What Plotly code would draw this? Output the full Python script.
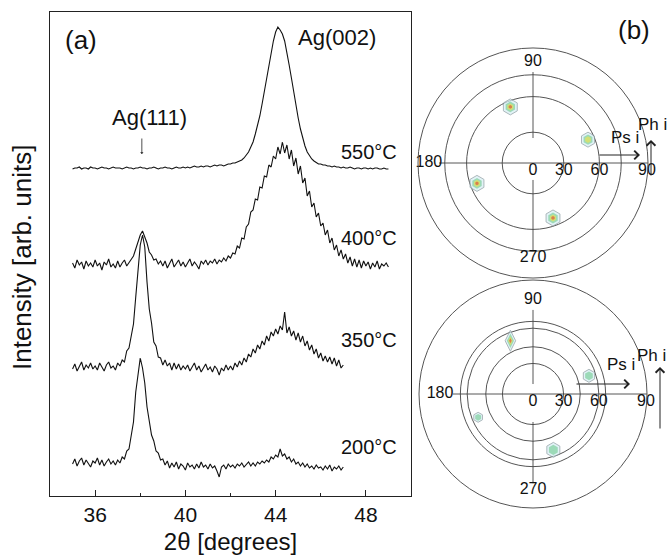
import numpy as np
import plotly.graph_objects as go

# ---------------- Panel (a): XRD 2-theta scans ----------------
TWO_THETA_START = 35.0
TWO_THETA_STEP = 0.1

I_550 = [
    327, 328, 328, 329, 327, 328, 328, 327, 329, 328,
    328, 327, 328, 329, 328, 328, 327, 328, 329, 328,
    328, 328, 327, 328, 329, 328, 328, 327, 328, 328,
    329, 328, 328, 327, 328, 328, 329, 328, 327, 328,
    328, 329, 328, 328, 327, 328, 329, 328, 328, 329,
    328, 329, 328, 329, 330, 329, 329, 330, 329, 330,
    330, 329, 330, 331, 330, 331, 331, 330, 331, 332,
    332, 333, 333, 334, 335, 336, 338, 341, 344, 349,
    354, 362, 370, 380, 392, 404, 418, 431, 444, 455,
    464, 469, 466, 462, 455, 444, 431, 418, 404, 391,
    378, 367, 358, 350, 344, 340, 337, 335, 333, 332,
    332, 331, 331, 330, 330, 329, 330, 329, 329, 328,
    329, 328, 328, 329, 328, 327, 328, 328, 327, 328,
    328, 327, 328, 327, 328, 328, 327, 327, 328, 327,
    327,
]

I_400 = [
    233, 228, 236, 231, 234, 227, 235, 230, 233, 229,
    236, 230, 233, 226, 234, 231, 237, 229, 232, 228,
    235, 229, 233, 236, 230, 233, 237, 240, 247, 254,
    261, 265, 259, 253, 244, 241, 236, 237, 232, 235,
    230, 235, 228, 233, 237, 229, 232, 236, 230, 234,
    229, 233, 237, 230, 234, 231, 227, 235, 232, 236,
    231, 235, 233, 237, 232, 236, 234, 238, 235, 240,
    238, 243, 242, 250, 248, 258, 257, 269, 272, 284,
    286, 297, 296, 309, 308, 320, 319, 331, 329, 340,
    337, 349, 342, 354, 343, 351, 337, 346, 330, 338,
    322, 330, 313, 318, 300, 305, 289, 293, 279, 283,
    270, 273, 261, 266, 253, 258, 246, 251, 240, 246,
    237, 242, 233, 239, 230, 237, 229, 236, 228, 235,
    230, 234, 227, 233, 229, 235, 227, 232, 230, 233,
    229,
]

I_350 = [
    127, 132, 125, 130, 134, 126, 131, 128, 133, 127,
    130, 126, 133, 129, 125, 131, 134, 128, 130, 126,
    133, 130, 136, 134, 145, 148, 161, 172, 199, 224,
    251, 261, 249, 214, 187, 173, 154, 150, 139, 138,
    131, 136, 130, 133, 126, 133, 127, 132, 126, 130,
    127, 131, 125, 129, 133, 126, 130, 124, 128, 132,
    126, 129, 124, 130, 127, 121, 128, 125, 131, 126,
    130, 126, 133, 129, 135, 131, 138, 134, 142, 139,
    147, 143, 151, 147, 155, 151, 160, 155, 164, 160,
    167, 162, 170, 166, 184, 163, 169, 160, 165, 156,
    163, 154, 160, 150, 155, 146, 151, 142, 147, 138,
    143, 135, 140, 134, 139, 132, 138, 130, 136, 128,
    131,
]

I_200 = [
    32, 37, 30, 35, 38, 31, 36, 33, 29, 35,
    33, 38, 31, 36, 30, 34, 37, 32, 35, 31,
    36, 33, 39, 37, 45, 47, 61, 74, 104, 122,
    138, 128, 113, 89, 76, 61, 55, 45, 43, 36,
    37, 31, 35, 28, 33, 29, 34, 27, 32, 30,
    26, 33, 29, 31, 27, 32, 28, 34, 29, 31,
    27, 32, 28, 30, 25, 19, 29, 31, 27, 32,
    29, 31, 28, 32, 30, 33, 29, 31, 34, 30,
    33, 30, 34, 32, 35, 33, 36, 34, 39, 37,
    41, 39, 47, 40, 42, 37, 39, 34, 37, 32,
    34, 30, 33, 29, 32, 28, 30, 27, 31, 28,
    29, 26, 30, 27, 31, 25, 29, 27, 30, 26,
    29,
]

SCANS = [I_550, I_400, I_350, I_200]
SCAN_LABELS = ["550°C", "400°C", "350°C", "200°C"]
X_TICKS = [36, 40, 44, 48]
X_MINOR = [38, 42, 46]

# ---------------- Panel (b): pole figures (psi, phi in degrees) ----------------
TOP_RING_PSI = [30, 60, 75]
BOT_RING_PSI = [30, 45, 60, 65]
PSI_LABEL_VALUES = [0, 30, 60, 89.5]
PSI_LABELS = ["0", "30", "60", "90"]

TOP_CROSS_PHI = [90, 270, 180, 0]
TOP_CROSS_FROM = [24.5, 16.8, 0, 0]
TOP_CROSS_TO = [76.7, 74.2, 78.5, 90]
BOT_CROSS_PHI = [90, 270, 180, 0]
BOT_CROSS_FROM = [10, 27.6, 0, 0]
BOT_CROSS_TO = [72.8, 76.1, 70.1, 90]

PHI_LABELS = ["90", "270", "180"]
PHI_LABEL_PHI = [90, 270, 180]
TOP_PHI_LABEL_PSI = [82.6, 79.2, 84.3]
BOT_PHI_LABEL_PSI = [79.0, 80.2, 78.4]

TOP_SPOT_PSI = [55.5, 54.9, 54.8, 53.9]
TOP_SPOT_PHI = [112, 23, 200, 290]
TOP_SPOT_LEVEL = [4, 3, 4, 4]
TOP_SPOT_SIZE = [16, 15, 16, 16]
TOP_SPOT_SYMBOL = ["hexagon", "hexagon", "hexagon", "hexagon"]

BOT_SPOT_PSI = [53.8, 54.6, 55.2, 55.1]
BOT_SPOT_PHI = [113, 18, 203, 290]
BOT_SPOT_LEVEL = [4, 2, 2, 2]
BOT_SPOT_SIZE = [15, 13, 10, 15]
BOT_SPOT_SYMBOL = ["diamond-tall", "hexagon", "hexagon", "hexagon"]

LEVEL_COLORS = ["#d6eff4", "#7fcf9c", "#e8e35a", "#e0553a"]
LEVEL_FRAC = [1.0, 0.68, 0.44, 0.24]

FONT = "Liberation Sans, Arial, sans-serif"
W, H = 670, 555


def stereo(psi):
    return np.tan(np.radians(np.asarray(psi, dtype=float)) / 2.0)


fig = go.Figure()

for I in SCANS:
    x = np.round(TWO_THETA_START + TWO_THETA_STEP * np.arange(len(I)), 2)
    fig.add_trace(go.Scatter(x=x, y=I, mode="lines",
                             line=dict(color="#111111", width=1.1),
                             xaxis="x", yaxis="y", showlegend=False,
                             hoverinfo="skip"))


def add_pole(subplot, cross_phi, cross_from, cross_to, lab_psi,
             spot_psi, spot_phi, spot_level, spot_size, spot_symbol):
    for phi, a, b in zip(cross_phi, cross_from, cross_to):
        fig.add_trace(go.Scatterpolar(r=stereo([a, b]), theta=[phi, phi],
                                      mode="lines",
                                      line=dict(color="#444444", width=0.9),
                                      subplot=subplot, showlegend=False,
                                      hoverinfo="skip"))
    n = len(spot_psi)
    for lvl in range(4):
        sel = [i for i in range(n) if spot_level[i] > lvl]
        if not sel:
            continue
        fig.add_trace(go.Scatterpolar(
            r=stereo([spot_psi[i] for i in sel]),
            theta=[spot_phi[i] for i in sel],
            mode="markers",
            marker=dict(size=[spot_size[i] * LEVEL_FRAC[lvl] for i in sel],
                        color=LEVEL_COLORS[lvl],
                        symbol=[spot_symbol[i] for i in sel],
                        line=dict(color="#8a9aa0" if lvl == 0 else LEVEL_COLORS[lvl],
                                  width=1 if lvl == 0 else 0)),
            subplot=subplot, showlegend=False, hoverinfo="skip"))
    # phi labels (90 / 270 / 180)
    fig.add_trace(go.Scatterpolar(r=stereo(lab_psi), theta=PHI_LABEL_PHI,
                                  mode="text", text=PHI_LABELS,
                                  textfont=dict(size=16, color="#111", family=FONT),
                                  cliponaxis=False,
                                  subplot=subplot, showlegend=False,
                                  hoverinfo="skip"))
    # psi labels along phi = 0
    fig.add_trace(go.Scatterpolar(r=stereo(PSI_LABEL_VALUES),
                                  theta=[0] * len(PSI_LABEL_VALUES),
                                  mode="text", text=PSI_LABELS,
                                  textposition="bottom center",
                                  textfont=dict(size=16, color="#111", family=FONT),
                                  cliponaxis=False,
                                  subplot=subplot, showlegend=False,
                                  hoverinfo="skip"))


add_pole("polar", TOP_CROSS_PHI, TOP_CROSS_FROM, TOP_CROSS_TO, TOP_PHI_LABEL_PSI,
         TOP_SPOT_PSI, TOP_SPOT_PHI, TOP_SPOT_LEVEL, TOP_SPOT_SIZE, TOP_SPOT_SYMBOL)
add_pole("polar2", BOT_CROSS_PHI, BOT_CROSS_FROM, BOT_CROSS_TO, BOT_PHI_LABEL_PSI,
         BOT_SPOT_PSI, BOT_SPOT_PHI, BOT_SPOT_LEVEL, BOT_SPOT_SIZE, BOT_SPOT_SYMBOL)


def polar_layout(xd, yd, ring_psi):
    return dict(
        domain=dict(x=xd, y=yd),
        bgcolor="white",
        radialaxis=dict(range=[0, 1], tickmode="array",
                        tickvals=list(stereo(ring_psi)),
                        showticklabels=False,
                        showline=False, ticks="", showgrid=True,
                        gridcolor="#555555", gridwidth=0.8, angle=0),
        angularaxis=dict(showline=True, linecolor="#555555", linewidth=1,
                         showgrid=False, showticklabels=False, ticks=""),
    )


def px_x(p):
    return p / W


def px_y(p):
    return (H - p) / H


def paper_text(text, x, y, size, angle=0):
    return dict(text=text, x=px_x(x), y=px_y(y), xref="paper", yref="paper",
                xanchor="center", yanchor="middle", showarrow=False,
                textangle=angle, font=dict(size=size, family=FONT, color="#111"))


def paper_arrow(x, y, ax, ay):
    return dict(text="", x=px_x(x), y=px_y(y), xref="paper", yref="paper",
                showarrow=True, ax=ax, ay=ay, arrowhead=4, arrowsize=1.7,
                arrowwidth=1, arrowcolor="#222")


annotations = [
    dict(text="(a)", x=35.38, y=456, xref="x", yref="y", showarrow=False,
         xanchor="center", yanchor="middle",
         font=dict(size=26, family=FONT, color="#111")),
    paper_text("(b)", 634, 30, 26),
    dict(text="Ag(002)", x=46.71, y=459, xref="x", yref="y", showarrow=False,
         xanchor="center", yanchor="middle",
         font=dict(size=22, family=FONT, color="#111")),
    dict(text="Ag(111)", x=38.4, y=379, xref="x", yref="y", showarrow=False,
         xanchor="center", yanchor="middle",
         font=dict(size=22, family=FONT, color="#111")),
    dict(text="", x=38.07, y=342, xref="x", yref="y", showarrow=True,
         ax=0, ay=-17, arrowhead=1, arrowsize=0.7, arrowwidth=0.8,
         arrowcolor="#222"),
    paper_text("Intensity [arb. units]", 22, 258, 26, angle=-90),
    paper_text("Ps i", 625, 137, 17),
    paper_text("Ph i", 652, 124, 17),
    paper_text("Ps i", 621, 365, 17),
    paper_text("Ph i", 651, 355, 17),
    paper_arrow(640, 155, -42, 0),
    paper_arrow(651, 140, 0, 37),
    paper_arrow(630, 384, -55, 0),
    paper_arrow(660, 367, 0, 63),
]

LABEL_POS_Y = [344, 258, 156, 49]
for txt, yy in zip(SCAN_LABELS, LABEL_POS_Y):
    annotations.append(dict(text=txt, x=48.13, y=yy, xref="x", yref="y",
                            showarrow=False, xanchor="center", yanchor="middle",
                            font=dict(size=20, family=FONT, color="#111")))

fig.update_layout(
    width=W, height=H,
    margin=dict(l=0, r=0, t=0, b=0),
    paper_bgcolor="white", plot_bgcolor="white",
    font=dict(family=FONT, color="#111"),
    xaxis=dict(domain=[50 / W, 411 / W], range=[34, 50], anchor="y",
               tickmode="array", tickvals=X_TICKS, ticks="inside",
               ticklen=6, tickwidth=1, tickcolor="#222",
               showline=True, linecolor="#222", linewidth=1.2, mirror=True,
               showgrid=False, zeroline=False,
               tickfont=dict(size=21, family=FONT, color="#111"),
               title=dict(text="2θ [degrees]", standoff=8,
                          font=dict(size=24, family=FONT, color="#111")),
               minor=dict(tickmode="array", tickvals=X_MINOR, ticks="inside",
                          ticklen=3, tickcolor="#222")),
    yaxis=dict(domain=[(H - 496) / H, (H - 12) / H], range=[0, 484],
               anchor="x", showticklabels=False, ticks="",
               showline=True, linecolor="#222", linewidth=1.2, mirror=True,
               showgrid=False, zeroline=False),
    polar=polar_layout([418 / W, 648 / W], [(H - 278) / H, (H - 48) / H],
                       TOP_RING_PSI),
    polar2=polar_layout([419 / W, 647 / W], [(H - 508) / H, (H - 280) / H],
                        BOT_RING_PSI),
    annotations=annotations,
    showlegend=False,
)

fig.write_html("out.html")
